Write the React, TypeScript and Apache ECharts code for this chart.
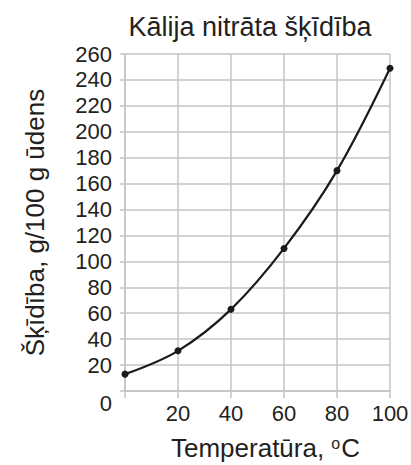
import React, { useEffect, useRef } from "react";
import * as echarts from "echarts";

const temperatures = [0, 20, 40, 60, 80, 100];
const solubility = [13, 31, 63, 110, 170, 249];
const titleText = "Kālija nitrāta šķīdība";
const yName = "Šķīdība, g/100 g ūdens";

const FONT = "'Liberation Sans', Arial, Helvetica, sans-serif";
const TEXT = "#231f20";
const GRID = "#c4c4c4";

export default function App() {
  const ref = useRef<HTMLDivElement>(null);
  useEffect(() => {
    if (!ref.current) return;
    const chart = echarts.init(ref.current, undefined, { renderer: "svg" });
    chart.setOption({
      animation: false,
      backgroundColor: "#ffffff",
      title: {
        text: titleText,
        left: 245,
        textAlign: "center",
        top: 8,
        textStyle: { fontFamily: FONT, fontSize: 27, fontWeight: "normal", color: TEXT },
      },
      grid: {
        left: 125,
        right: 21,
        top: 54,
        bottom: 74,
        containLabel: false,
        outerBoundsMode: "none",
      },
      xAxis: {
        type: "value",
        min: 0,
        max: 100,
        interval: 20,
        name: "Temperatūra, {sup|o}C",
        nameLocation: "middle",
        nameGap: 44,
        nameTextStyle: {
          fontFamily: FONT,
          fontSize: 26,
          color: TEXT,
          padding: [0, 0, 0, 16],
          rich: {
            sup: { fontFamily: FONT, fontSize: 16, color: TEXT, verticalAlign: "top", padding: [0, 1, 8, 0] },
          },
        },
        axisLine: { show: true, lineStyle: { color: GRID, width: 1.5 } },
        axisTick: { show: true, length: 7, lineStyle: { color: GRID, width: 1.5 } },
        splitLine: { show: true, lineStyle: { color: GRID, width: 1.5 } },
        axisLabel: {
          fontFamily: FONT,
          fontSize: 22,
          color: TEXT,
          margin: 11,
          formatter: (v: number) => (v === 0 ? "" : String(v)),
        },
      },
      yAxis: {
        type: "value",
        min: 0,
        max: 260,
        interval: 20,
        name: yName,
        nameLocation: "middle",
        nameGap: 77,
        nameRotate: 90,
        nameTextStyle: { fontFamily: FONT, fontSize: 26, color: TEXT },
        axisLine: { show: true, lineStyle: { color: GRID, width: 1.5 } },
        axisTick: { show: true, length: 5, lineStyle: { color: GRID, width: 1.5 } },
        splitLine: { show: true, lineStyle: { color: GRID, width: 1.5 } },
        axisLabel: {
          fontFamily: FONT,
          fontSize: 22,
          color: TEXT,
          margin: 13,
          formatter: (v: number) => (v === 0 ? "{z|0}" : String(v)),
          rich: {
            z: { fontFamily: FONT, fontSize: 22, color: TEXT, padding: [24, 0, 0, 0] },
          },
        },
      },
      series: [
        {
          type: "line",
          data: temperatures.map((t, i) => [t, solubility[i]]),
          smooth: 0.35,
          symbol: "circle",
          symbolSize: 7,
          itemStyle: { color: "#1a1a1a" },
          lineStyle: { color: "#1a1a1a", width: 2.2 },
          clip: false,
        },
      ],
    });
    return () => chart.dispose();
  }, []);
  return (
    <div
      ref={ref}
      style={{ position: "fixed", left: 0, top: 0, width: 411, height: 465 }}
    />
  );
}
